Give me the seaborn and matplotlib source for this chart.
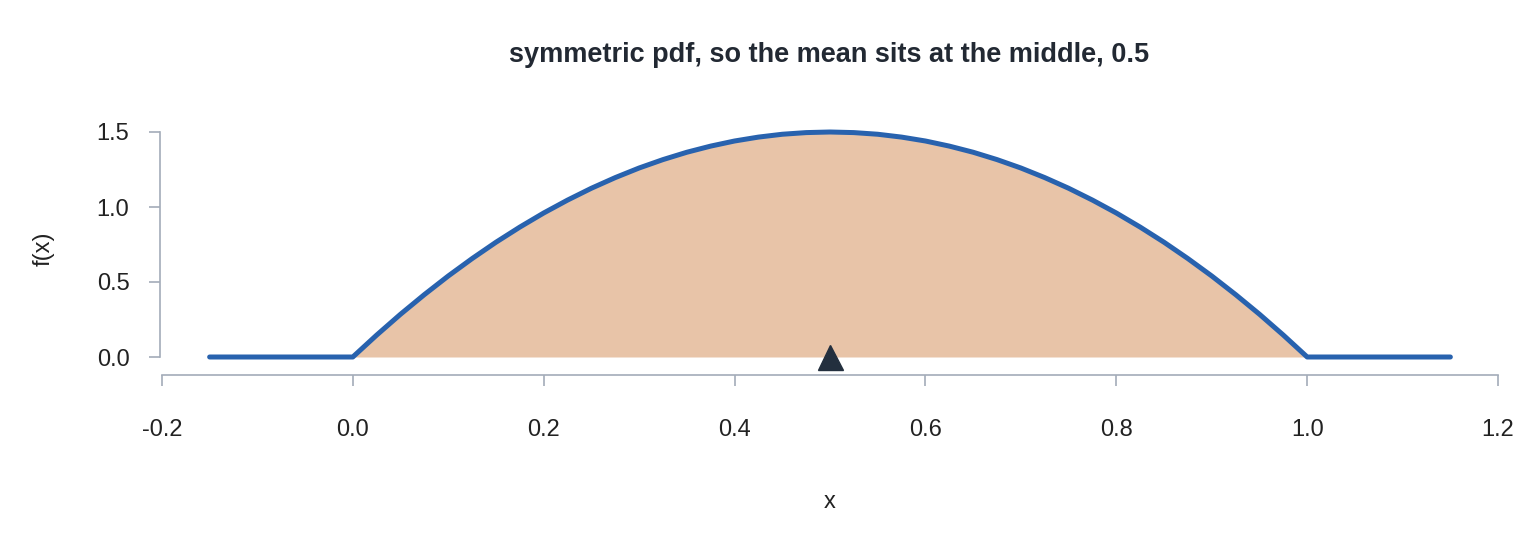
import matplotlib
matplotlib.use("Agg")
import matplotlib.pyplot as plt
import seaborn as sns
import pandas as pd

sns.set_theme(style="white")
plt.rcParams['font.family'] = ['Liberation Sans', 'DejaVu Sans']

x_vals = [-0.15, 0.0, 0.025, 0.05, 0.075, 0.1, 0.125, 0.15, 0.175, 0.2, 0.225, 0.25,
          0.275, 0.3, 0.325, 0.35, 0.375, 0.4, 0.425, 0.45, 0.475, 0.5,
          0.525, 0.55, 0.575, 0.6, 0.625, 0.65, 0.675, 0.7, 0.725, 0.75,
          0.775, 0.8, 0.825, 0.85, 0.875, 0.9, 0.925, 0.95, 0.975, 1.0, 1.15]
fx_vals = [0.0, 0.0, 0.146, 0.285, 0.416, 0.54, 0.656, 0.765, 0.866, 0.96, 1.046, 1.125,
           1.196, 1.26, 1.316, 1.365, 1.406, 1.44, 1.466, 1.485, 1.496, 1.5,
           1.496, 1.485, 1.466, 1.44, 1.406, 1.365, 1.316, 1.26, 1.196, 1.125,
           1.046, 0.96, 0.866, 0.765, 0.656, 0.54, 0.416, 0.285, 0.146, 0.0, 0.0]
mean_x = [0.5]
mean_y = [0.0]
xticks = [-0.2, 0.0, 0.2, 0.4, 0.6, 0.8, 1.0, 1.2]
yticks = [0.0, 0.5, 1.0, 1.5]

df = pd.DataFrame({"x": x_vals, "fx": fx_vals})
inside = df[(df.x >= 0) & (df.x <= 1)]

fig = plt.figure(figsize=(15.36, 5.37), dpi=100)
ax = fig.add_axes([160/1536, (537-375)/537, 1340/1536, 252/537])
ax.fill_between(inside.x, 0, inside.fx, color="#E8C4A8", lw=0)
sns.lineplot(data=df, x="x", y="fx", ax=ax, color="#2862AE", lw=3.6)
ax.plot(mean_x, mean_y, marker="^", ms=18, color="#232F3E", ls="none")

ax.set_xlim(-0.202, 1.202)
ax.set_ylim(-0.12, 1.56)
ax.set_xticks(xticks)
ax.set_xticklabels([f"{t:.1f}" for t in xticks])
ax.set_yticks(yticks)
ax.set_yticklabels([f"{t:.1f}" for t in yticks])
for s in ["top", "right"]:
    ax.spines[s].set_visible(False)
for s in ["left", "bottom"]:
    ax.spines[s].set_color("#A3ACB9")
    ax.spines[s].set_linewidth(1.2)
ax.spines["left"].set_bounds(0, 1.5)
ax.spines["bottom"].set_bounds(-0.2, 1.2)
ax.tick_params(axis="both", direction="out", length=8, width=1.2, color="#A3ACB9",
               labelsize=17, labelcolor="#222222", left=True, bottom=True)
ax.tick_params(axis="x", pad=24)
ax.tick_params(axis="y", pad=14)
ax.set_xlabel("x", fontsize=17, color="#222222", labelpad=36)
ax.set_ylabel("f(x)", fontsize=17, color="#222222", labelpad=30)
fig.text(0.54, 0.885, "symmetric pdf, so the mean sits at the middle, 0.5",
         ha="center", fontsize=19.5, fontweight="bold", color="#222933")
fig.savefig("out.png", dpi=100)
